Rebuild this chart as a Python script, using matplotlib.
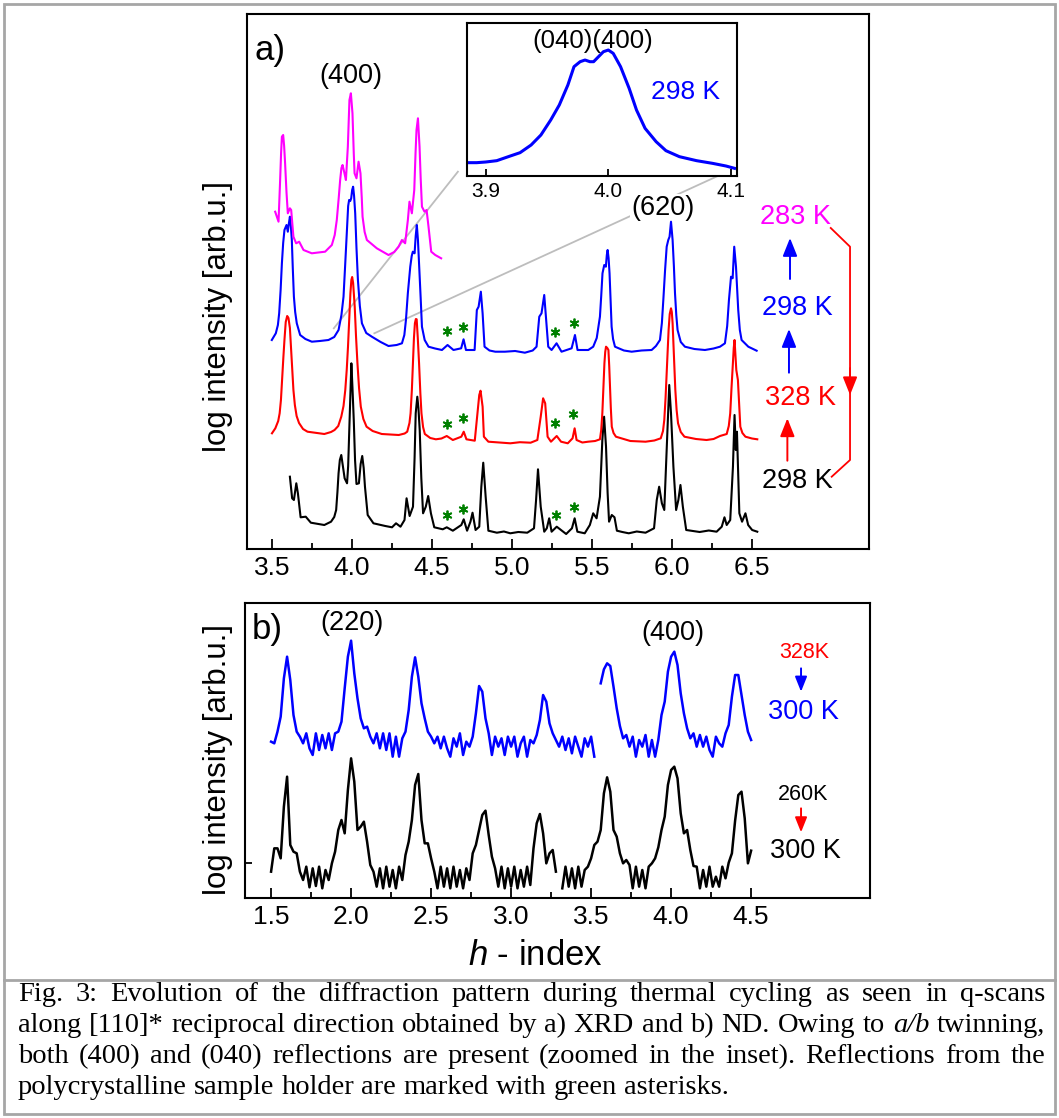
import matplotlib
matplotlib.use("Agg")
import matplotlib.pyplot as plt
import numpy as np
from matplotlib.patches import Rectangle
from matplotlib.lines import Line2D

plt.rcParams['font.family'] = ['Liberation Sans', 'DejaVu Sans']
plt.rcParams['mathtext.fontset'] = 'custom'
plt.rcParams['mathtext.it'] = 'Liberation Sans:italic'
plt.rcParams['mathtext.rm'] = 'Liberation Sans'

# --- a) XRD q-scans: (h, log intensity [arb. units])
xrd_298_start = [
    (3.613, 0.713), (3.627, 0.497), (3.638, 0.480), (3.653, 0.647), (3.663, 0.547), (3.680, 0.307),
    (3.712, 0.313), (3.744, 0.253), (3.790, 0.240), (3.828, 0.230), (3.870, 0.263), (3.890, 0.310),
    (3.902, 0.380), (3.910, 0.560), (3.917, 0.747), (3.925, 0.880), (3.934, 0.930), (3.944, 0.820),
    (3.955, 0.697), (3.970, 0.647), (3.977, 0.820), (3.982, 1.080), (3.990, 1.500), (3.997, 1.847),
    (4.004, 1.600), (4.012, 1.280), (4.020, 0.880), (4.029, 0.640), (4.044, 0.647), (4.055, 0.840),
    (4.065, 0.920), (4.074, 0.800), (4.082, 0.613), (4.099, 0.330), (4.135, 0.247), (4.209, 0.220),
    (4.251, 0.207), (4.276, 0.247), (4.304, 0.213), (4.329, 0.280), (4.342, 0.497), (4.361, 0.320),
    (4.382, 0.413), (4.392, 0.900), (4.399, 1.347), (4.409, 1.513), (4.416, 1.400), (4.424, 1.180),
    (4.434, 0.700), (4.445, 0.347), (4.462, 0.413), (4.477, 0.520), (4.494, 0.347), (4.515, 0.207),
    (4.568, 0.187), (4.593, 0.207), (4.631, 0.173), (4.684, 0.230), (4.699, 0.287), (4.720, 0.173),
    (4.741, 0.263), (4.754, 0.353), (4.773, 0.180), (4.796, 0.213), (4.809, 0.613), (4.821, 0.853),
    (4.836, 0.513), (4.853, 0.173), (4.906, 0.153), (4.950, 0.165), (4.990, 0.147), (5.040, 0.160),
    (5.096, 0.153), (5.138, 0.197), (5.151, 0.480), (5.163, 0.787), (5.180, 0.413), (5.202, 0.163),
    (5.218, 0.197), (5.233, 0.297), (5.248, 0.163), (5.280, 0.213), (5.307, 0.180), (5.339, 0.140),
    (5.375, 0.197), (5.392, 0.297), (5.409, 0.163), (5.455, 0.147), (5.487, 0.230), (5.508, 0.347),
    (5.529, 0.297), (5.550, 0.513), (5.565, 1.080), (5.576, 1.313), (5.588, 1.013), (5.598, 0.550),
    (5.607, 0.263), (5.624, 0.330), (5.641, 0.307), (5.656, 0.173), (5.690, 0.160), (5.730, 0.147),
    (5.780, 0.165), (5.835, 0.153), (5.888, 0.197), (5.905, 0.480), (5.920, 0.613), (5.937, 0.447),
    (5.952, 0.380), (5.968, 1.013), (5.983, 1.630), (5.994, 1.347), (6.009, 0.813), (6.026, 0.380),
    (6.040, 0.480), (6.053, 0.630), (6.068, 0.413), (6.089, 0.180), (6.130, 0.170), (6.173, 0.160),
    (6.230, 0.175), (6.279, 0.163), (6.311, 0.213), (6.328, 0.307), (6.342, 0.230), (6.364, 0.280),
    (6.381, 0.813), (6.391, 1.330), (6.399, 0.980), (6.406, 1.163), (6.421, 0.347), (6.438, 0.263),
    (6.459, 0.347), (6.476, 0.230), (6.501, 0.180), (6.533, 0.163)]

xrd_328 = [
    (3.501, 1.147), (3.522, 1.197), (3.540, 1.270), (3.549, 1.347), (3.557, 1.480), (3.564, 1.680),
    (3.572, 1.900), (3.579, 2.080), (3.587, 2.260), (3.596, 2.320), (3.604, 2.300), (3.613, 2.200),
    (3.620, 2.000), (3.627, 1.800), (3.635, 1.580), (3.644, 1.430), (3.655, 1.320), (3.670, 1.250),
    (3.695, 1.190), (3.723, 1.163), (3.780, 1.150), (3.828, 1.140), (3.870, 1.160), (3.892, 1.180),
    (3.915, 1.220), (3.934, 1.313), (3.948, 1.420), (3.959, 1.580), (3.968, 1.780), (3.976, 2.013),
    (3.984, 2.300), (3.991, 2.547), (3.997, 2.680), (4.002, 2.710), (4.008, 2.650), (4.018, 2.413),
    (4.026, 2.120), (4.035, 1.847), (4.045, 1.600), (4.056, 1.413), (4.072, 1.290), (4.092, 1.213),
    (4.130, 1.170), (4.187, 1.140), (4.240, 1.135), (4.293, 1.130), (4.330, 1.145), (4.346, 1.163),
    (4.360, 1.250), (4.367, 1.347), (4.375, 1.580), (4.382, 1.847), (4.388, 2.100), (4.394, 2.247),
    (4.400, 2.290), (4.405, 2.287), (4.412, 2.100), (4.420, 1.847), (4.428, 1.550), (4.435, 1.347),
    (4.445, 1.210), (4.456, 1.140), (4.490, 1.100), (4.525, 1.087), (4.560, 1.095), (4.593, 1.120),
    (4.631, 1.080), (4.684, 1.113), (4.699, 1.163), (4.716, 1.087), (4.768, 1.073), (4.783, 1.313),
    (4.796, 1.530), (4.804, 1.573), (4.817, 1.413), (4.825, 1.113), (4.853, 1.063), (4.920, 1.055),
    (4.990, 1.047), (5.050, 1.058), (5.117, 1.053), (5.159, 1.080), (5.180, 1.313), (5.195, 1.497),
    (5.208, 1.447), (5.223, 1.113), (5.244, 1.063), (5.280, 1.120), (5.307, 1.063), (5.349, 1.047),
    (5.379, 1.097), (5.392, 1.197), (5.404, 1.080), (5.440, 1.055), (5.476, 1.063), (5.520, 1.070),
    (5.550, 1.087), (5.558, 1.180), (5.565, 1.347), (5.572, 1.620), (5.578, 1.847), (5.583, 1.960),
    (5.588, 2.013), (5.596, 2.000), (5.603, 1.980), (5.608, 1.820), (5.613, 1.613), (5.618, 1.400),
    (5.624, 1.213), (5.635, 1.150), (5.650, 1.113), (5.740, 1.070), (5.835, 1.063), (5.890, 1.075),
    (5.930, 1.097), (5.944, 1.170), (5.952, 1.280), (5.960, 1.500), (5.967, 1.747), (5.973, 1.980),
    (5.979, 2.180), (5.986, 2.340), (5.994, 2.397), (5.999, 2.360), (6.004, 2.247), (6.012, 1.920),
    (6.021, 1.580), (6.029, 1.380), (6.038, 1.247), (6.055, 1.160), (6.078, 1.113), (6.150, 1.090),
    (6.216, 1.080), (6.260, 1.090), (6.300, 1.120), (6.342, 1.140), (6.355, 1.220), (6.364, 1.347),
    (6.372, 1.600), (6.381, 1.847), (6.386, 2.000), (6.391, 2.080), (6.396, 1.950), (6.402, 1.780),
    (6.407, 1.730), (6.412, 1.680), (6.420, 1.420), (6.427, 1.213), (6.440, 1.150), (6.459, 1.113),
    (6.500, 1.095), (6.533, 1.087)]

xrd_298_back = [
    (3.500, 2.080), (3.525, 2.147), (3.538, 2.230), (3.546, 2.347), (3.555, 2.580), (3.563, 2.847),
    (3.571, 3.050), (3.579, 3.180), (3.592, 3.230), (3.600, 3.163), (3.607, 3.250), (3.613, 3.313),
    (3.619, 3.220), (3.625, 3.080), (3.631, 2.800), (3.638, 2.513), (3.646, 2.360), (3.656, 2.247),
    (3.677, 2.130), (3.710, 2.090), (3.750, 2.063), (3.800, 2.070), (3.854, 2.080), (3.890, 2.110),
    (3.917, 2.180), (3.935, 2.330), (3.948, 2.513), (3.958, 2.820), (3.969, 3.180), (3.977, 3.420),
    (3.983, 3.480), (3.990, 3.470), (3.996, 3.497), (4.002, 3.580), (4.008, 3.613), (4.014, 3.520),
    (4.021, 3.347), (4.029, 3.000), (4.038, 2.680), (4.050, 2.420), (4.063, 2.247), (4.090, 2.150),
    (4.125, 2.113), (4.180, 2.060), (4.229, 2.020), (4.280, 2.030), (4.313, 2.047), (4.328, 2.130),
    (4.338, 2.280), (4.350, 2.550), (4.365, 2.813), (4.374, 2.920), (4.381, 2.963), (4.392, 2.947),
    (4.399, 3.120), (4.406, 3.230), (4.413, 3.080), (4.421, 2.813), (4.430, 2.500), (4.438, 2.213),
    (4.455, 2.080), (4.479, 2.013), (4.520, 1.995), (4.563, 1.980), (4.598, 2.030), (4.635, 1.980),
    (4.683, 1.997), (4.698, 2.087), (4.713, 1.980), (4.767, 1.980), (4.781, 2.380), (4.792, 2.413),
    (4.806, 2.563), (4.817, 2.347), (4.829, 2.013), (4.860, 1.975), (4.896, 1.963), (4.956, 1.963),
    (5.020, 1.970), (5.081, 1.953), (5.130, 1.975), (5.154, 2.013), (5.171, 2.313), (5.185, 2.347),
    (5.202, 2.530), (5.214, 2.280), (5.227, 2.013), (5.248, 1.980), (5.279, 2.047), (5.310, 1.963),
    (5.373, 1.997), (5.394, 2.130), (5.410, 1.980), (5.477, 1.980), (5.508, 2.013), (5.530, 2.100),
    (5.550, 2.313), (5.558, 2.520), (5.566, 2.747), (5.577, 2.830), (5.587, 2.813), (5.593, 2.930),
    (5.598, 2.980), (5.604, 2.900), (5.610, 2.747), (5.617, 2.450), (5.623, 2.213), (5.632, 2.090),
    (5.644, 2.013), (5.700, 1.975), (5.748, 1.963), (5.810, 1.975), (5.873, 1.980), (5.900, 2.020),
    (5.925, 2.080), (5.937, 2.250), (5.946, 2.480), (5.957, 2.780), (5.967, 3.013), (5.977, 3.080),
    (5.985, 3.113), (5.994, 3.263), (6.004, 3.080), (6.012, 2.820), (6.019, 2.547), (6.027, 2.330),
    (6.035, 2.180), (6.055, 2.060), (6.081, 2.013), (6.140, 1.990), (6.206, 1.980), (6.260, 1.995),
    (6.300, 2.013), (6.331, 2.047), (6.345, 2.220), (6.356, 2.480), (6.369, 2.713), (6.379, 2.697),
    (6.389, 3.013), (6.400, 2.813), (6.407, 2.600), (6.414, 2.380), (6.424, 2.180), (6.435, 2.080),
    (6.477, 2.013), (6.529, 1.973)]

xrd_283 = [
    (3.521, 3.363), (3.542, 3.263), (3.552, 3.680), (3.558, 3.950), (3.563, 4.113), (3.571, 4.130),
    (3.577, 4.020), (3.583, 3.847), (3.592, 3.550), (3.600, 3.347), (3.613, 3.397), (3.621, 3.380),
    (3.635, 3.113), (3.652, 3.047), (3.671, 3.063), (3.698, 2.980), (3.750, 2.947), (3.790, 2.955),
    (3.833, 2.963), (3.875, 3.030), (3.893, 3.130), (3.906, 3.280), (3.918, 3.500), (3.927, 3.680),
    (3.935, 3.800), (3.942, 3.830), (3.954, 3.747), (3.963, 3.680), (3.975, 4.013), (3.985, 4.480),
    (3.994, 4.547), (4.004, 4.347), (4.012, 3.950), (4.017, 3.747), (4.029, 3.697), (4.042, 3.863),
    (4.054, 3.747), (4.062, 3.500), (4.067, 3.313), (4.080, 3.160), (4.094, 3.080), (4.156, 2.997),
    (4.229, 2.930), (4.265, 2.960), (4.292, 3.013), (4.313, 3.080), (4.333, 3.047), (4.350, 3.280),
    (4.360, 3.463), (4.375, 3.347), (4.390, 3.580), (4.398, 3.950), (4.404, 4.180), (4.413, 4.297),
    (4.423, 4.013), (4.430, 3.700), (4.438, 3.413), (4.454, 3.363), (4.467, 3.380), (4.479, 3.213),
    (4.496, 2.963), (4.521, 2.930), (4.558, 2.897)]

# sample-holder reflections (green asterisks)
star_h = [4.593, 4.694, 5.271, 5.387, 4.593, 4.694, 5.271, 5.383, 4.593, 4.694, 5.275, 5.387]
star_I = [2.173, 2.207, 2.157, 2.247, 1.240, 1.297, 1.253, 1.337, 0.330, 0.387, 0.330, 0.413]

# inset: (040)/(400) doublet at 298 K
inset_298 = [
    (3.8848, 0.40), (3.8926, 0.40), (3.900, 0.42), (3.909, 0.46), (3.920, 0.60), (3.928, 0.70),
    (3.937, 0.93), (3.945, 1.23), (3.953, 1.68), (3.960, 2.13), (3.967, 2.73), (3.972, 3.28),
    (3.977, 3.43), (3.981, 3.48), (3.985, 3.43), (3.988, 3.43), (3.992, 3.58), (3.996, 3.73),
    (4.000, 3.78), (4.004, 3.68), (4.010, 3.28), (4.017, 2.63), (4.023, 1.98), (4.030, 1.43),
    (4.039, 1.03), (4.047, 0.76), (4.058, 0.58), (4.072, 0.46), (4.085, 0.38), (4.096, 0.30),
    (4.103, 0.23)]

# --- b) ND q-scans, sampled every 0.02 in h from 1.50 to 4.50
nd_h_first, nd_h_last, nd_points = 1.50, 4.50, 151
nd_300_from_328 = [
    4.75, 4.70, 5.05, 5.50, 6.65, 7.30, 6.60, 5.55, 5.05, 4.90, 4.70, 5.00, 4.55, 4.35, 5.00, 4.50,
    4.95, 4.55, 5.00, 4.50, 5.00, 5.05, 5.35, 6.35, 7.30, 7.78, 6.80, 6.05, 5.45, 5.15, 5.20, 4.90,
    4.70, 5.00, 4.55, 5.00, 4.50, 5.00, 4.30, 4.90, 4.30, 4.85, 5.05, 5.70, 6.70, 7.28, 6.70, 5.90,
    5.45, 5.05, 4.90, 4.70, 4.90, 4.55, 4.90, 4.55, 4.30, 4.85, 4.60, 5.00, 4.35, 4.75, 4.60, 4.90,
    5.60, 6.42, 6.25, 5.45, 5.00, 4.35, 4.90, 4.60, 4.85, 4.35, 4.90, 4.60, 4.90, 4.30, 4.70, 4.90,
    4.30, 4.80, 4.70, 4.95, 5.40, 6.15, 5.95, 5.30, 5.00, 4.80, 4.60, 4.90, 4.50, 4.85, 4.40, 4.90,
    4.60, 4.30, 4.85, 4.60, 4.90, 4.30, np.nan, 6.50, 6.92, 7.10, 7.02, 6.40, 5.75, 5.22, 4.85, 4.95,
    4.60, 4.90, 4.30, 4.80, 4.60, 4.95, 4.30, 4.80, 4.30, 4.80, 5.55, 5.95, 6.85, 7.30, 7.45, 7.05,
    6.20, 5.60, 5.15, 4.85, 5.00, 4.60, 4.95, 4.60, 4.90, 4.50, 4.30, 4.90, 4.70, 4.60, 5.00, 5.25,
    6.10, 6.75, 6.75, 6.15, 5.55, 5.05, 4.80]
nd_300_from_260 = [
    0.85, 1.55, 1.55, 1.25, 2.80, 3.70, 1.65, 1.45, 1.40, 0.85, 0.60, 1.00, 0.38, 0.95, 0.42, 1.00,
    0.35, 0.90, 0.60, 1.10, 1.45, 2.10, 2.40, 2.00, 3.30, 4.25, 3.55, 2.10, 2.20, 2.35, 1.75, 1.05,
    0.85, 0.40, 0.95, 0.35, 1.00, 0.40, 0.90, 0.35, 1.00, 0.60, 1.35, 1.75, 2.40, 3.45, 3.78, 2.40,
    1.70, 1.70, 1.25, 0.85, 0.35, 1.00, 0.40, 0.95, 0.35, 1.00, 0.40, 0.90, 0.35, 0.95, 0.60, 1.40,
    1.65, 2.10, 2.55, 2.68, 1.95, 1.30, 0.95, 0.40, 1.00, 0.35, 0.95, 0.40, 1.00, 0.35, 0.90, 0.40,
    1.00, 0.45, 1.55, 2.30, 2.58, 2.00, 1.10, 1.40, 1.50, 0.85, np.nan, 0.35, 1.00, 0.40, 0.95, 0.35,
    1.00, 0.40, 0.90, 1.00, 1.25, 1.65, 1.75, 2.10, 3.20, 3.68, 3.25, 2.10, 1.90, 1.40, 1.10, 1.20,
    1.05, 0.35, 1.00, 0.40, 0.90, 0.35, 1.00, 1.10, 1.25, 1.58, 2.10, 2.50, 3.45, 3.90, 4.00, 3.65,
    2.60, 2.00, 2.10, 1.50, 1.02, 1.00, 0.35, 0.90, 0.40, 1.00, 0.40, 0.70, 0.40, 1.00, 0.65, 1.12,
    1.40, 2.38, 3.15, 3.25, 2.45, 1.10, 1.48]

caption_lines = [
    "Fig. 3: Evolution of the diffraction pattern during thermal cycling as seen in q-scans",
    "along [110]* reciprocal direction obtained by a) XRD and b) ND. Owing to a/b twinning,",
    "both (400) and (040) reflections are present (zoomed in the inset). Reflections from the",
    "polycrystalline sample holder are marked with green asterisks.",
]

W, H = 1059, 1118
fig = plt.figure(figsize=(W / 100, H / 100), dpi=100)

# outer frame and caption separator
fig.add_artist(Rectangle((4 / W, 1 - 1114 / H), 1051 / W, 1110 / H, transform=fig.transFigure,
                         fill=False, ec='#a6a6a6', lw=2))
fig.add_artist(Line2D([4 / W, 1055 / W], [1 - 980 / H] * 2, transform=fig.transFigure,
                      color='#a6a6a6', lw=2))

# ---------------- panel a
ax = fig.add_axes([247 / W, 1 - 549 / H, 622 / W, 535 / H])
for tr, c in [(xrd_298_start, 'black'), (xrd_328, 'red'), (xrd_298_back, 'blue'), (xrd_283, 'magenta')]:
    d = np.array(tr)
    ax.plot(d[:, 0], d[:, 1], color=c, lw=1.5, zorder=3, solid_joinstyle='round')
ax.plot(star_h, star_I, ls='none', marker=(6, 2, 0), ms=7, mew=1.3, color='#008000', zorder=3)

# zoom guide lines towards the inset
ax.plot([3.8875, 4.6625], [2.197, 3.763], color='#bdbdbd', lw=1.3, zorder=1)
ax.plot([4.1406, 6.30], [2.147, 3.73], color='#bdbdbd', lw=1.3, zorder=1)

ax.set_xlim(3.345, 7.231)
ax.set_ylim(-0.01, 5.34)
ax.set_xticks([3.5, 4.0, 4.5, 5.0, 5.5, 6.0, 6.5])
ax.set_xticks([3.75, 4.25, 4.75, 5.25, 5.75, 6.25], minor=True)
ax.set_yticks([])
ax.tick_params(axis='x', which='major', direction='in', length=7, width=1.3, labelsize=19, pad=5)
ax.tick_params(axis='x', which='minor', direction='in', length=4, width=1.3)
for s in ax.spines.values():
    s.set_linewidth(1.5)
ax.text(0.012, 0.963, 'a)', transform=ax.transAxes, fontsize=25, ha='left', va='top')
ax.text(3.997, 4.72, '(400)', fontsize=19.5, ha='center', va='center')
ax.text(5.941, 3.40, '(620)', fontsize=19.5, ha='center', va='center', zorder=2,
        bbox=dict(fc='white', ec='none', pad=1))
ax.text(-0.047, 0.434, 'log intensity [arb.u.]', transform=ax.transAxes, rotation=90,
        fontsize=22.5, ha='center', va='center')

# temperature sequence labels
ax.text(6.769, 3.31, '283 K', color='magenta', fontsize=19.5, ha='center', va='center')
ax.text(6.781, 2.40, '298 K', color='blue', fontsize=19.5, ha='center', va='center')
ax.text(6.80, 1.50, '328 K', color='red', fontsize=19.5, ha='center', va='center')
ax.text(6.781, 0.67, '298 K', color='black', fontsize=19.5, ha='center', va='center')
arr = '-|>,head_length=0.5,head_width=0.2'
ax.annotate('', xy=(6.7375, 3.10), xytext=(6.7375, 2.69),
            arrowprops=dict(arrowstyle=arr, color='blue', lw=1.4, mutation_scale=22, shrinkA=0, shrinkB=0))
ax.annotate('', xy=(6.731, 2.19), xytext=(6.731, 1.753),
            arrowprops=dict(arrowstyle=arr, color='blue', lw=1.4, mutation_scale=22, shrinkA=0, shrinkB=0))
ax.annotate('', xy=(6.721, 1.297), xytext=(6.721, 0.873),
            arrowprops=dict(arrowstyle=arr, color='red', lw=1.4, mutation_scale=22, shrinkA=0, shrinkB=0))
ax.plot([6.992, 7.1125, 7.1125, 6.998], [3.20, 3.013, 0.88, 0.713], color='red', lw=1.3)
ax.annotate('', xy=(7.1125, 1.53), xytext=(7.1125, 1.80),
            arrowprops=dict(arrowstyle=arr, color='red', lw=1.3, mutation_scale=22, shrinkA=0, shrinkB=0))

# inset
axi = fig.add_axes([467 / W, 1 - 176 / H, 270 / W, 153.3 / H])
d = np.array(inset_298)
axi.plot(d[:, 0], d[:, 1], color='blue', lw=2.2, solid_joinstyle='round')
axi.set_xlim(3.8847, 4.105)
axi.set_ylim(0, 4.6)
axi.set_xticks([3.9, 4.0, 4.1])
axi.set_yticks([])
axi.tick_params(axis='x', direction='in', length=5, width=1.3, labelsize=15, pad=4)
for s in axi.spines.values():
    s.set_linewidth(1.5)
axi.text(3.9875, 4.05, '(040)(400)', fontsize=18.5, ha='center', va='center')
axi.text(4.063, 2.53, '298 K', color='blue', fontsize=19, ha='center', va='center')

# ---------------- panel b
bx = fig.add_axes([245 / W, 1 - 898 / H, 625 / W, 295 / H])
nd_h = np.linspace(nd_h_first, nd_h_last, nd_points)
bx.plot(nd_h, nd_300_from_328, color='blue', lw=1.8, solid_joinstyle='round')
bx.plot(nd_h, nd_300_from_260, color='black', lw=1.8, solid_joinstyle='round')
bx.set_xlim(1.337, 5.243)
bx.set_ylim(0.06, 8.91)
bx.set_xticks([1.5, 2.0, 2.5, 3.0, 3.5, 4.0, 4.5])
bx.set_xticks([1.75, 2.25, 2.75, 3.25, 3.75, 4.25], minor=True)
bx.set_yticks([1.10])
bx.set_yticklabels([])
bx.tick_params(axis='x', which='major', direction='in', length=7, width=1.3, labelsize=19, pad=5)
bx.tick_params(axis='x', which='minor', direction='in', length=4, width=1.3)
bx.tick_params(axis='y', direction='in', length=5, width=1.3)
for s in bx.spines.values():
    s.set_linewidth(1.5)
bx.text(0.011, 0.965, 'b)', transform=bx.transAxes, fontsize=25, ha='left', va='top')
bx.text(2.003, 8.30, '(220)', fontsize=19.5, ha='center', va='center')
bx.text(4.010, 8.02, '(400)', fontsize=19.5, ha='center', va='center')
bx.text(4.831, 7.43, '328K', color='red', fontsize=15.5, ha='center', va='center')
bx.text(4.828, 5.64, '300 K', color='blue', fontsize=19.5, ha='center', va='center')
bx.text(4.826, 3.18, '260K', color='black', fontsize=15.5, ha='center', va='center')
bx.text(4.840, 1.47, '300 K', color='black', fontsize=19.5, ha='center', va='center')
arr_s = '-|>,head_length=0.5,head_width=0.2'
bx.annotate('', xy=(4.812, 6.25), xytext=(4.812, 6.95),
            arrowprops=dict(arrowstyle=arr_s, color='blue', lw=1.4, mutation_scale=18, shrinkA=0, shrinkB=0))
bx.annotate('', xy=(4.812, 2.03), xytext=(4.812, 2.75),
            arrowprops=dict(arrowstyle=arr_s, color='red', lw=1.4, mutation_scale=18, shrinkA=0, shrinkB=0))
bx.text(-0.043, 0.47, 'log intensity [arb.u.]', transform=bx.transAxes, rotation=90,
        fontsize=22.5, ha='center', va='center')
bx.text(0.464, -0.14, '$h$ - index', transform=bx.transAxes, fontsize=25, ha='center', va='top')

# ---------------- caption, justified between two margins
renderer = fig.canvas.get_renderer()
x_left, x_right = 18, 1045
baselines = [1001, 1032, 1063, 1094]
cap_size = 20.5
for i, line in enumerate(caption_lines):
    words = line.split(' ')
    items = []
    for w in words:
        st = 'italic' if w == 'a/b' else 'normal'
        items.append(fig.text(0, 0, w, fontsize=cap_size, family='Liberation Serif', style=st,
                              ha='left', va='baseline'))
    widths = [t.get_window_extent(renderer).width for t in items]
    if i < len(caption_lines) - 1:
        gap = (x_right - x_left - sum(widths)) / (len(words) - 1)
    else:
        gap = 0.25 * cap_size * 100 / 72
    x = x_left
    for t, wd in zip(items, widths):
        t.set_position((x / W, 1 - baselines[i] / H))
        x += wd + gap

fig.savefig('out.png', dpi=100)
